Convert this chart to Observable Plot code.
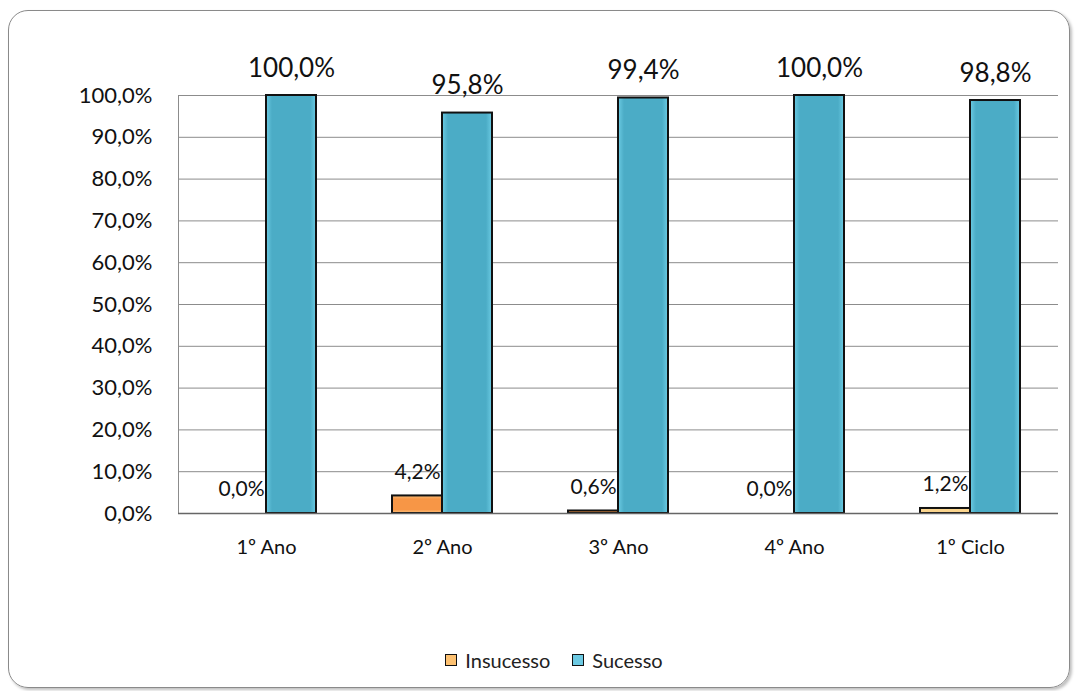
<!DOCTYPE html>
<html><head><meta charset="utf-8">
<script src="https://cdn.jsdelivr.net/npm/d3@7"></script>
<script src="https://cdn.jsdelivr.net/npm/@observablehq/plot@0.6"></script>
<style>
body{margin:0;background:#fff;font-family:Lato,"Open Sans",sans-serif;}
#frame{position:absolute;left:8px;top:10px;width:1060px;height:676px;border:1.5px solid #8a8a8a;border-radius:20px;box-shadow:2px 2px 3px rgba(0,0,0,0.25);}
#chart{position:absolute;left:0;top:0;}
#legend{position:absolute;left:0;top:648px;width:1078px;display:flex;justify-content:center;gap:22px;font-size:20px;color:#222;padding-left:30px;box-sizing:border-box;line-height:24px;}
#legend span{display:flex;align-items:center;gap:8px;}
#legend i{display:inline-block;width:10px;height:10px;border:1.5px solid #111;}
</style></head>
<body>
<div id="frame"></div>
<div id="chart"></div>
<div id="legend">
<span><i style="background:#FDC171"></i>Insucesso</span>
<span><i style="background:#6CC9E2"></i>Sucesso</span>
</div>
<script>
const categories = ["1º Ano", "2º Ano", "3º Ano", "4º Ano", "1º Ciclo"];
const insucesso = [0.0, 4.2, 0.6, 0.0, 1.2];
const sucesso = [100.0, 95.8, 99.4, 100.0, 98.8];
const yTicks = [0, 10, 20, 30, 40, 50, 60, 70, 80, 90, 100];

const fmt = v => v.toFixed(1).replace(".", ",") + "%";
const insData = categories.map((c, i) => ({cat: c, value: insucesso[i]}));
const sucData = categories.map((c, i) => ({cat: c, value: sucesso[i]}));

const plot = Plot.plot({
  width: 1078,
  height: 600,
  marginLeft: 178,
  marginRight: 20,
  marginTop: 95,
  marginBottom: 87,
  style: {fontFamily: "Lato, 'Open Sans', sans-serif", background: "transparent", color: "#111"},
  x: {domain: categories, padding: 0, label: null},
  y: {domain: [0, 100], label: null},
  marks: [
    () => {
      const svg = d3.create("svg:defs");
      const g = svg.append("linearGradient").attr("id", "gSuc").attr("x1", 0).attr("x2", 1);
      g.append("stop").attr("offset", "0").attr("stop-color", "#6CCBE3");
      g.append("stop").attr("offset", "0.12").attr("stop-color", "#4BACC6");
      g.append("stop").attr("offset", "0.88").attr("stop-color", "#4BACC6");
      g.append("stop").attr("offset", "1").attr("stop-color", "#6CCBE3");
      const o = svg.append("linearGradient").attr("id", "gIns").attr("x1", 0).attr("x2", 0).attr("y1", 0).attr("y2", 1);
      o.append("stop").attr("offset", "0").attr("stop-color", "#FBC27E");
      o.append("stop").attr("offset", "0.2").attr("stop-color", "#F79646");
      o.append("stop").attr("offset", "0.8").attr("stop-color", "#F79646");
      o.append("stop").attr("offset", "1").attr("stop-color", "#FBC27E");
      return svg.node();
    },
    Plot.ruleY(yTicks.filter(d => d > 0), {stroke: "#8c8c8c", strokeWidth: 1}),
    Plot.ruleX([0], {x: () => categories[0], dx: -88, y1: 0, y2: 100, stroke: "#8c8c8c"}),
    Plot.axisY({ticks: yTicks, tickFormat: d => fmt(d), tickSize: 0, tickPadding: 26, fontSize: 22, label: null}),
    Plot.axisX({tickSize: 0, tickPadding: 26, fontSize: 20, label: null}),
    Plot.barY(insData.filter(d => d.value > 0), {x: "cat", y: "value", insetLeft: 38, insetRight: 88,
      fill: d => d.cat === "1º Ciclo" ? "#FBD58E" : "url(#gIns)", stroke: "#111", strokeWidth: 2}),
    Plot.barY(sucData, {x: "cat", y: "value", insetLeft: 88, insetRight: 38,
      fill: "url(#gSuc)", stroke: "#111", strokeWidth: 2}),
    Plot.ruleY([0], {stroke: "#666", strokeWidth: 1.5}),
    Plot.text(sucData, {x: "cat", y: "value", text: d => fmt(d.value), dx: 25, dy: -27, fontSize: 26, fill: "#111"}),
    Plot.text(insData, {x: "cat", y: "value", text: d => fmt(d.value), dx: -25, dy: -24, fontSize: 21, fill: "#111"})
  ]
});
document.getElementById("chart").appendChild(plot);
</script>
</body></html>
